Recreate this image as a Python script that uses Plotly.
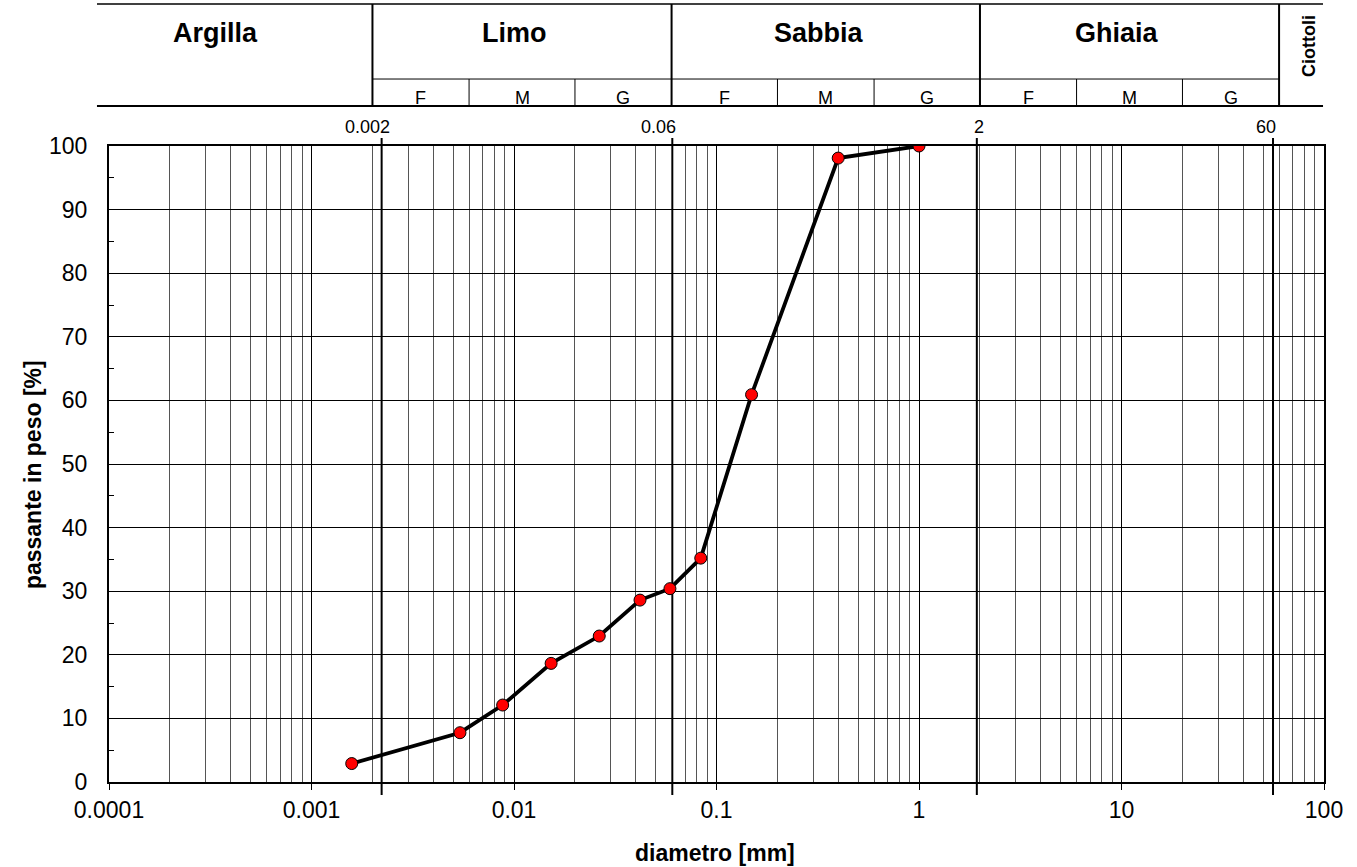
import math
import plotly.graph_objects as go

# Curva granulometrica: diametro [mm] e passante in peso [%]
diametro = [0.00158, 0.00541, 0.00879, 0.01525, 0.02636, 0.0419, 0.0589, 0.0836, 0.149, 0.399, 1.0]
passante = [2.9, 7.75, 12.1, 18.65, 22.95, 28.6, 30.4, 35.2, 60.9, 98.1, 100.0]

# Asse x logaritmico
x_tick_vals = [0.0001, 0.001, 0.01, 0.1, 1, 10, 100]
x_tick_text = ["0.0001", "0.001", "0.01", "0.1", "1", "10", "100"]

# Limiti tra le classi granulometriche
limiti = [0.002, 0.06, 2, 60]
limiti_testo = ["0.002", "0.06", "2", "60"]
limiti_linee = [0.00222, 0.0605, 1.93, 56.0]
limiti_testo_x = [0.00188, 0.052, 1.98, 51.7]

# Suddivisioni fine / media / grossa
divisioni = [0.002, 0.006, 0.02, 0.06, 0.2, 0.6, 2, 6, 20, 60]
sottoclassi = ["F", "M", "G", "F", "M", "G", "F", "M", "G"]

classi = ["Argilla", "Limo", "Sabbia", "Ghiaia"]
classi_x = [0.000337, 0.0101, 0.321, 9.5]
ciottoli_x = 84.3

LOG_MIN, LOG_MAX = -4, 2
FONT = "Arial, Liberation Sans, sans-serif"


def px(v):
    """Posizione in coordinate paper per un diametro sull'asse logaritmico."""
    return (math.log10(v) - LOG_MIN) / (LOG_MAX - LOG_MIN)


# Righe dell'intestazione in coordinate paper
Y_TOP, Y_MID, Y_BOT = 1.2233, 1.1053, 1.0629
X_LEFT, X_RIGHT = -0.0099, 0.9992

fig = go.Figure()
fig.add_trace(go.Scatter(
    x=diametro, y=passante, mode="lines+markers",
    line=dict(color="black", width=3.8),
    marker=dict(size=12, color="red", line=dict(color="black", width=1)),
    showlegend=False, hoverinfo="x+y",
))

shapes = []
line_k = dict(color="black", width=2)
shapes.append(dict(type="line", xref="paper", yref="paper", x0=X_LEFT, x1=X_RIGHT,
                   y0=Y_TOP, y1=Y_TOP, line=dict(color="black", width=1.5)))
shapes.append(dict(type="line", xref="paper", yref="paper", x0=X_LEFT, x1=X_RIGHT,
                   y0=Y_BOT, y1=Y_BOT, line=line_k))
shapes.append(dict(type="line", xref="paper", yref="paper", x0=px(limiti[0]), x1=px(limiti[-1]),
                   y0=Y_MID, y1=Y_MID, line=dict(color="black", width=1)))
for v in limiti:
    shapes.append(dict(type="line", xref="paper", yref="paper", x0=px(v), x1=px(v),
                       y0=Y_BOT, y1=Y_TOP, line=line_k))
for v in divisioni:
    if v not in limiti:
        shapes.append(dict(type="line", xref="paper", yref="paper", x0=px(v), x1=px(v),
                           y0=Y_BOT, y1=Y_MID, line=dict(color="black", width=1)))
# Linee dei limiti nel grafico
for v in limiti_linee:
    shapes.append(dict(type="line", xref="paper", yref="paper", x0=px(v), x1=px(v),
                       y0=-0.0204, y1=1.0126, line=line_k, layer="between"))

annotations = []
for name, xv in zip(classi, classi_x):
    annotations.append(dict(text="<b>%s</b>" % name, x=px(xv), y=1.1777, xref="paper", yref="paper",
                            showarrow=False, xanchor="center", yanchor="middle",
                            font=dict(size=27, color="black", family=FONT)))
annotations.append(dict(text="<b>Ciottoli</b>", x=px(ciottoli_x), y=1.1572, xref="paper", yref="paper",
                        showarrow=False, textangle=-90, xanchor="center", yanchor="middle",
                        font=dict(size=18, color="black", family=FONT)))
for i, lab in enumerate(sottoclassi):
    xc = math.sqrt(divisioni[i] * divisioni[i + 1])
    annotations.append(dict(text=lab, x=px(xc), y=1.0755, xref="paper", yref="paper",
                            showarrow=False, xanchor="center", yanchor="middle",
                            font=dict(size=18, color="black", family=FONT)))
for lab, xv in zip(limiti_testo, limiti_testo_x):
    annotations.append(dict(text=lab, x=px(xv), y=1.0299, xref="paper", yref="paper",
                            showarrow=False, xanchor="center", yanchor="middle",
                            font=dict(size=18, color="black", family=FONT)))
annotations.append(dict(text="<b>diametro [mm]</b>", x=0.4988, y=-0.1116, xref="paper", yref="paper",
                        showarrow=False, xanchor="center", yanchor="middle",
                        font=dict(size=23, color="black", family=FONT)))
annotations.append(dict(text="<b>passante in peso [%]</b>", x=-0.0626, y=0.484, xref="paper", yref="paper",
                        showarrow=False, textangle=-90, xanchor="center", yanchor="middle",
                        font=dict(size=23, color="black", family=FONT)))

fig.update_layout(
    width=1357, height=867,
    margin=dict(l=109, r=33, t=146, b=85),
    paper_bgcolor="white", plot_bgcolor="white",
    font=dict(family=FONT, color="black"),
    shapes=shapes, annotations=annotations,
    showlegend=False,
)

fig.update_xaxes(
    type="log", range=[LOG_MIN, LOG_MAX],
    tickmode="array", tickvals=x_tick_vals, ticktext=x_tick_text,
    ticks="outside", ticklen=6, tickwidth=1, tickcolor="black",
    tickfont=dict(size=23, color="black"),
    showgrid=True, gridcolor="black", gridwidth=1,
    minor=dict(dtick="D1", showgrid=True, gridcolor="#555555", gridwidth=1, ticks=""),
    showline=True, linewidth=2, linecolor="black", mirror=True,
    zeroline=False,
)
fig.update_yaxes(
    range=[0, 100], tick0=0, dtick=10,
    ticks="inside", ticklen=6, tickwidth=1, tickcolor="black",
    tickfont=dict(size=23, color="black"),
    ticklabelstandoff=15,
    showgrid=True, gridcolor="black", gridwidth=1,
    minor=dict(dtick=5, ticks="inside", ticklen=5, tickcolor="black", showgrid=False),
    showline=True, linewidth=2, linecolor="black", mirror=True,
    zeroline=False,
)

fig.write_html("out.html")
